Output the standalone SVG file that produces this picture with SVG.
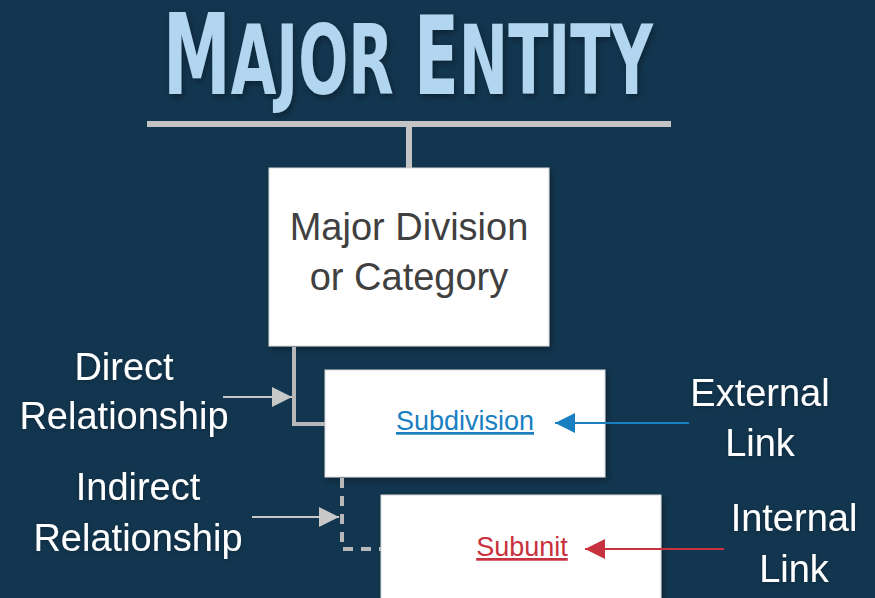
<svg xmlns="http://www.w3.org/2000/svg" width="875" height="598" viewBox="0 0 875 598">
  <defs>
    <filter id="shadow" x="-10%" y="-10%" width="130%" height="130%">
      <feDropShadow dx="2" dy="3" stdDeviation="3" flood-color="#000" flood-opacity="0.35"/>
    </filter>
    <filter id="glow" x="-10%" y="-20%" width="120%" height="140%">
      <feDropShadow dx="0" dy="1" stdDeviation="2" flood-color="#000" flood-opacity="0.3"/>
    </filter>
    <marker id="ah-gray" viewBox="0 0 10 10" refX="10" refY="5" markerWidth="28" markerHeight="20" markerUnits="userSpaceOnUse" orient="auto">
      <path d="M0,0 L10,5 L0,10 z" fill="#c8c8c8"/>
    </marker>
    <marker id="ah-blue" viewBox="0 0 10 10" refX="10" refY="5" markerWidth="28" markerHeight="20" markerUnits="userSpaceOnUse" orient="auto">
      <path d="M0,0 L10,5 L0,10 z" fill="#1a7fc1"/>
    </marker>
    <marker id="ah-red" viewBox="0 0 10 10" refX="10" refY="5" markerWidth="28" markerHeight="20" markerUnits="userSpaceOnUse" orient="auto">
      <path d="M0,0 L10,5 L0,10 z" fill="#c8313e"/>
    </marker>
  </defs>
  <style>
    .title { font-family: "DejaVu Sans Condensed", "DejaVu Sans", sans-serif; font-weight: bold; fill: #b3d6f0; }
    .label { font-family: "Liberation Sans", Arial, sans-serif; font-size: 38px; fill: #ffffff; text-anchor: middle; }
    .box { fill: #ffffff; stroke: #d8d8d8; stroke-width: 1; }
    .boxtext { font-family: "Liberation Sans", Arial, sans-serif; font-size: 38px; fill: #404040; text-anchor: middle; }
    .link { font-family: "Liberation Sans", Arial, sans-serif; font-size: 27px; text-anchor: middle; text-decoration: underline; }
    .conn { fill: none; stroke: #b8b8b8; stroke-width: 4; }
  </style>
  <rect x="0" y="0" width="875" height="598" fill="#12364f"/>

  <g id="title" filter="url(#shadow)">
    <text class="title" x="163" y="94" font-size="97" textLength="490" lengthAdjust="spacingAndGlyphs"><tspan font-size="112">M</tspan>AJOR <tspan font-size="108">E</tspan>NTITY</text>
  </g>

  <g id="major-division">
    <rect class="box" x="269" y="168" width="280" height="178" filter="url(#shadow)"/>
    <text class="boxtext" x="409" y="240">Major Division</text>
    <text class="boxtext" x="409" y="290">or Category</text>
  </g>

  <g id="subdivision">
    <rect class="box" x="325" y="370" width="280" height="107" filter="url(#shadow)"/>
    <text class="link" x="465" y="430" fill="#1a7fc1">Subdivision</text>
  </g>

  <g id="subunit">
    <rect class="box" x="381" y="495" width="280" height="120" filter="url(#shadow)"/>
    <text class="link" x="522" y="556" fill="#c8313e">Subunit</text>
  </g>

  <g id="labels" filter="url(#glow)">
    <text class="label" x="124" y="380">Direct</text>
    <text class="label" x="124" y="429">Relationship</text>
    <text class="label" x="138" y="500">Indirect</text>
    <text class="label" x="138" y="551">Relationship</text>
    <text class="label" x="760" y="406">External</text>
    <text class="label" x="760" y="456">Link</text>
    <text class="label" x="794" y="531">Internal</text>
    <text class="label" x="794" y="582">Link</text>
  </g>

  <g id="connectors">
    <line x1="147" y1="124" x2="671" y2="124" stroke="#c4c4c4" stroke-width="6"/>
    <line x1="409" y1="124" x2="409" y2="168" stroke="#c4c4c4" stroke-width="6"/>
    <path class="conn" d="M294,347 V424 H325"/>
    <path class="conn" d="M342,478 V549 H381" stroke-dasharray="10,8"/>
    <line x1="223" y1="397" x2="292" y2="397" stroke="#c8c8c8" stroke-width="2" marker-end="url(#ah-gray)"/>
    <line x1="252" y1="517" x2="339" y2="517" stroke="#c8c8c8" stroke-width="2" marker-end="url(#ah-gray)"/>
    <line x1="689" y1="423" x2="555" y2="423" stroke="#1a7fc1" stroke-width="2" marker-end="url(#ah-blue)"/>
    <line x1="724" y1="549" x2="585" y2="549" stroke="#c8313e" stroke-width="2" marker-end="url(#ah-red)"/>
  </g>
</svg>
